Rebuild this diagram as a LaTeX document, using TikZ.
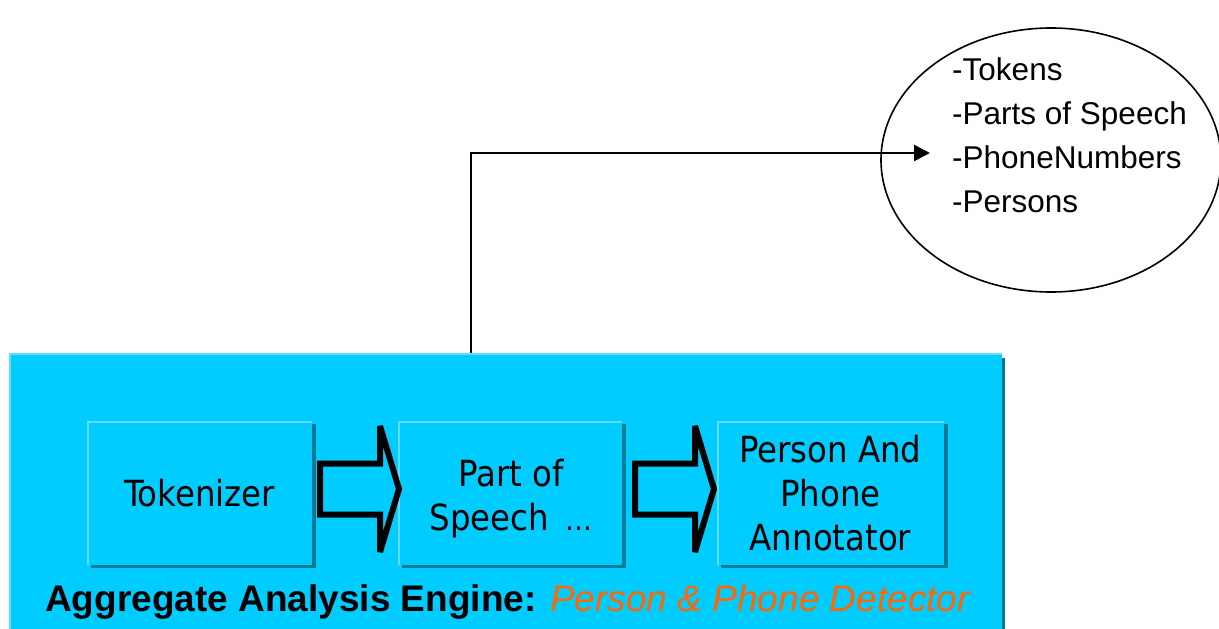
\documentclass[tikz,border=0pt]{standalone}
\usepackage{fontspec}
\setmainfont{Liberation Sans}
\newfontfamily\boxfont{DejaVu Sans Condensed}
\usetikzlibrary{arrows.meta,shadows,shapes.geometric}
\definecolor{aecyan}{HTML}{00CCFF}
\definecolor{aelight}{HTML}{66DBFF}
\definecolor{aedark}{HTML}{007A99}
\definecolor{aeorange}{HTML}{FF6600}
\tikzset{
  bevelbox/.style={fill=aecyan, inner sep=0pt, outer sep=0pt,
    path picture={\draw[aelight, line width=4pt]
      (path picture bounding box.south west) --
      (path picture bounding box.north west) --
      (path picture bounding box.north east);}},
  enginebox/.style={bevelbox, minimum width=993pt, minimum height=347pt,
    general shadow={fill=aedark, shadow xshift=3pt, shadow yshift=-5pt}},
  stagebox/.style={bevelbox, minimum height=144pt, align=center,
    font=\boxfont\fontsize{36}{44}\selectfont,
    general shadow={fill=aedark, shadow xshift=4pt, shadow yshift=-3pt}},
  stagetext/.style={align=center, inner sep=0pt,
    font=\boxfont\fontsize{36}{44}\selectfont},
  fatline/.style={draw=black, fill=aecyan, line width=6pt,
    line join=miter, miter limit=3},
  fatarrow/.pic={\path[fatline] (0,-25.5) -- (60,-25.5) -- (60,-63) --
    (79,0) -- (60,63) -- (60,25.5) -- (0,25.5) -- cycle;},
  link/.style={draw=black, line width=2.5pt,
    -{Triangle[length=16pt,width=16pt]}},
  outputs/.style={draw=black, line width=1.6pt, ellipse,
    minimum width=340pt, minimum height=264pt, inner sep=0pt}
}
\begin{document}
\begin{tikzpicture}[x=1pt,y=-1pt]
\clip (0,0) rectangle (1219,629);
\fill[white] (0,0) rectangle (1219,629);

% aggregate engine and its three stages
\node[enginebox] (aae) at (505.5,526.5) {};
\node[stagebox, minimum width=225pt] (tok) at (199.5,493) {Tokenizer};
\node[stagebox, minimum width=224pt] (pos) at (510,493) {};
\node[stagetext] (postext) at (511,499)
  {Part of\\Speech\ \,{\fontsize{30}{30}\selectfont …}};
\node[stagebox, minimum width=227pt] (ann) at (830.5,493)
  {Person And\\Phone\\Annotator};

% block arrows between stages
\pic at (320,489) {fatarrow};
\pic at (635,489) {fatarrow};

% result set
\node[outputs] (out) at (1051,160) {};
\node[anchor=north west, inner sep=0pt, align=left,
  font=\fontsize{31.5}{44}\selectfont] (outtext) at (952,57)
  {-Tokens\\-Parts of Speech\\-PhoneNumbers\\-Persons};

% connector from engine to results
\coordinate (tap) at (471,353);
\coordinate (hit) at (930,153);
\draw[link] (tap) |- (hit);

% engine caption
\node[anchor=base west, inner sep=0pt, font=\fontsize{37}{44}\selectfont]
  (cap) at (45,611)
  {\textbf{Aggregate Analysis Engine:} \textcolor{aeorange}{\itshape Person \& Phone Detector}};
\end{tikzpicture}
\end{document}
